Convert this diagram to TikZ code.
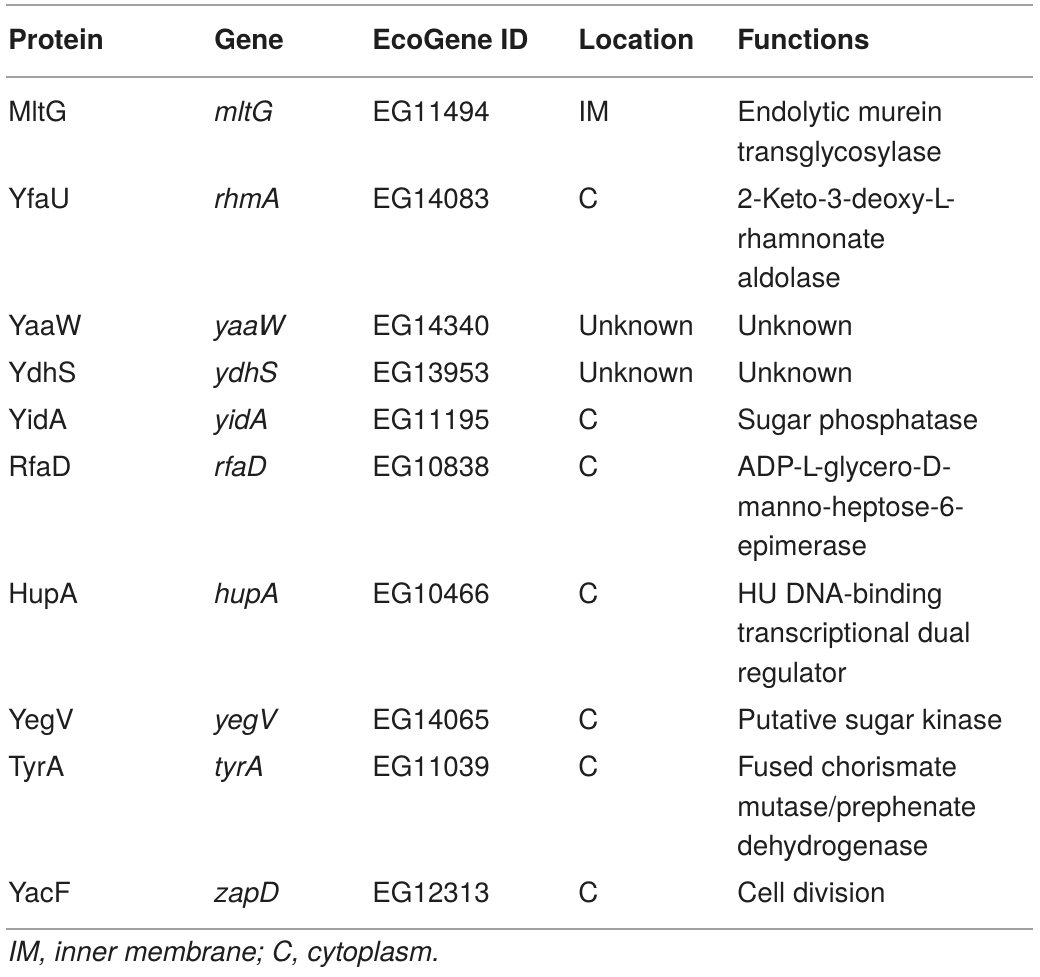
\documentclass[tikz,border=0pt]{standalone}
\usepackage{fontspec}
\setmainfont{TeX Gyre Heros}
\definecolor{rulegray}{RGB}{160,160,160}
\definecolor{inkgray}{RGB}{30,30,30}
\tikzset{
  cell/.style={anchor=base west, inner sep=0pt, align=left, text=inkgray,
    font=\fontsize{13.9}{19.75}\selectfont},
  head/.style={cell, font=\fontsize{13.9}{19.75}\selectfont\bfseries},
  rowrule/.style={draw=rulegray, line width=1pt}
}
\begin{document}
\begin{tikzpicture}[x=0.5pt, y=-0.5pt]
      \useasboundingbox (0,0) rectangle (1040,977);
      % rules
      \coordinate (t0) at (6,5.5);   \coordinate (t1) at (1033,5.5);
      \coordinate (h0) at (6,77);    \coordinate (h1) at (1033,77);
      \coordinate (b0) at (6,929);   \coordinate (b1) at (1033,929);
      \draw[rowrule] (t0) -- (t1);
      \draw[rowrule] (h0) -- (h1);
      \draw[rowrule] (b0) -- (b1);
      % header
      \node[head] (hprot) at (8,50) {Protein};
      \node[head] (hgene) at (214,50) {Gene};
      \node[head] (hid) at (372,50) {EcoGene ID};
      \node[head] (hloc) at (578,50) {Location};
      \node[head] (hfun) at (737,50) {Functions};
      % rows (multi-line cells sit on the baseline of their last line)
      \node[cell] (p1) at (8,122) {MltG};
      \node[cell] (g1) at (214,122) {\itshape mltG};
      \node[cell] (i1) at (372,122) {EG11494};
      \node[cell] (l1) at (578,122) {IM};
      \node[cell] (f1) at (737,161.5) {Endolytic murein\\transglycosylase};
      \node[cell] (p2) at (8,209) {YfaU};
      \node[cell] (g2) at (214,209) {\itshape rhmA};
      \node[cell] (i2) at (372,209) {EG14083};
      \node[cell] (l2) at (578,209) {C};
      \node[cell] (f2) at (737,288) {2-Keto-3-deoxy-L-\\rhamnonate\\aldolase};
      \node[cell] (p3) at (8,335.5) {YaaW};
      \node[cell] (g3) at (214,335.5) {\itshape yaaW};
      \node[cell] (i3) at (372,335.5) {EG14340};
      \node[cell] (l3) at (578,335.5) {Unknown};
      \node[cell] (f3) at (737,335.5) {Unknown};
      \node[cell] (p4) at (8,382.5) {YdhS};
      \node[cell] (g4) at (214,382.5) {\itshape ydhS};
      \node[cell] (i4) at (372,382.5) {EG13953};
      \node[cell] (l4) at (578,382.5) {Unknown};
      \node[cell] (f4) at (737,382.5) {Unknown};
      \node[cell] (p5) at (8,430) {YidA};
      \node[cell] (g5) at (214,430) {\itshape yidA};
      \node[cell] (i5) at (372,430) {EG11195};
      \node[cell] (l5) at (578,430) {C};
      \node[cell] (f5) at (737,430) {Sugar phosphatase};
      \node[cell] (p6) at (8,477) {RfaD};
      \node[cell] (g6) at (214,477) {\itshape rfaD};
      \node[cell] (i6) at (372,477) {EG10838};
      \node[cell] (l6) at (578,477) {C};
      \node[cell] (f6) at (737,556) {ADP-L-glycero-D-\\manno-heptose-6-\\epimerase};
      \node[cell] (p7) at (8,603.5) {HupA};
      \node[cell] (g7) at (214,603.5) {\itshape hupA};
      \node[cell] (i7) at (372,603.5) {EG10466};
      \node[cell] (l7) at (578,603.5) {C};
      \node[cell] (f7) at (737,682.5) {HU DNA-binding\\transcriptional dual\\regulator};
      \node[cell] (p8) at (8,730) {YegV};
      \node[cell] (g8) at (214,730) {\itshape yegV};
      \node[cell] (i8) at (372,730) {EG14065};
      \node[cell] (l8) at (578,730) {C};
      \node[cell] (f8) at (737,730) {Putative sugar kinase};
      \node[cell] (p9) at (8,777) {TyrA};
      \node[cell] (g9) at (214,777) {\itshape tyrA};
      \node[cell] (i9) at (372,777) {EG11039};
      \node[cell] (l9) at (578,777) {C};
      \node[cell] (f9) at (737,856) {Fused chorismate\\mutase/prephenate\\dehydrogenase};
      \node[cell] (p10) at (8,903) {YacF};
      \node[cell] (g10) at (214,903) {\itshape zapD};
      \node[cell] (i10) at (372,903) {EG12313};
      \node[cell] (l10) at (578,903) {C};
      \node[cell] (f10) at (737,903) {Cell division};
      % footnote
      \node[cell] (note) at (8,962) {\itshape IM, inner membrane; C, cytoplasm.};
    \end{tikzpicture}
\end{document}
